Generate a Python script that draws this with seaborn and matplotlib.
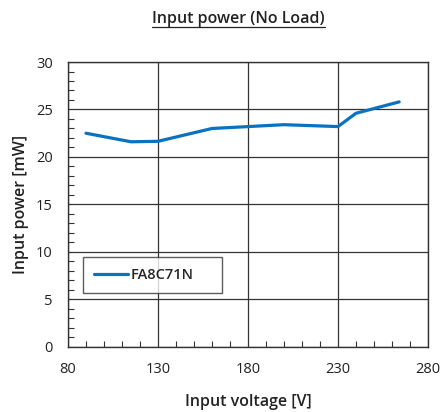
import pandas as pd
import matplotlib.pyplot as plt
import seaborn as sns
from matplotlib.ticker import MultipleLocator
from matplotlib.lines import Line2D

# Data
VOLTAGE = [90, 115, 130, 160, 180, 200, 230, 240, 264]
POWER = [22.5, 21.6, 21.65, 23.0, 23.2, 23.4, 23.2, 24.6, 25.8]
SERIES = "FA8C71N"
X_TICKS = [80, 130, 180, 230, 280]

df = pd.DataFrame({"voltage": VOLTAGE, "power": POWER, "name": SERIES})

sns.set_style("white")
plt.rcParams['font.family'] = ['Open Sans', 'DejaVu Sans']

fig = plt.figure(figsize=(4.43, 4.12), dpi=100)
ax = fig.add_axes([0.1535, 0.158, 0.8125, 0.6915])

sns.lineplot(data=df, x="voltage", y="power", hue="name", palette=["#0a72bf"],
             linewidth=2.3, ax=ax, legend=False)

ax.set_xlim(80, 280)
ax.set_ylim(0, 30)
ax.set_xticks(X_TICKS)
ax.xaxis.set_minor_locator(MultipleLocator(10))
ax.yaxis.set_major_locator(MultipleLocator(5))
ax.yaxis.set_minor_locator(MultipleLocator(1))
ax.tick_params(which="both", direction="in", bottom=True, left=True,
               colors="#333333", labelcolor="#222222", labelsize=10.5)
ax.tick_params(which="major", length=0, pad=11)
ax.tick_params(which="minor", length=4, width=0.8)
ax.grid(True, which="major", color="#333333", linewidth=0.9)
for s in ax.spines.values():
    s.set_color("#333333")
    s.set_linewidth(1.0)

ax.set_xlabel("Input voltage [V]", fontsize=11.5, fontweight="semibold", color="#222222", labelpad=12)
ax.set_ylabel("Input power [mW]", fontsize=11.5, fontweight="semibold", color="#222222", labelpad=5)

handle = Line2D([], [], color="#0a72bf", linewidth=2.3)
leg = ax.legend([handle], [SERIES], loc="lower left", bbox_to_anchor=(0.042, 0.19, 0.386, 0.12),
                mode="expand", borderaxespad=0, frameon=True, fancybox=False,
                handlelength=2.3, handletextpad=0.2, borderpad=0.75,
                prop={"weight": "semibold", "size": 10.5})
leg.get_frame().set_edgecolor("#333333")
leg.get_frame().set_linewidth(1.0)

# Underlined title
title = fig.text(0.539, 0.953, "Input power (No Load)", ha="center", va="center",
                 fontsize=11.5, fontweight="semibold", color="#222222")
fig.canvas.draw()
bb = title.get_window_extent().transformed(fig.transFigure.inverted())
fig.add_artist(Line2D([bb.x0, bb.x1], [bb.y0 + 0.002, bb.y0 + 0.002],
                      transform=fig.transFigure, color="#222222", linewidth=0.9))

fig.savefig("out.png", dpi=100)
